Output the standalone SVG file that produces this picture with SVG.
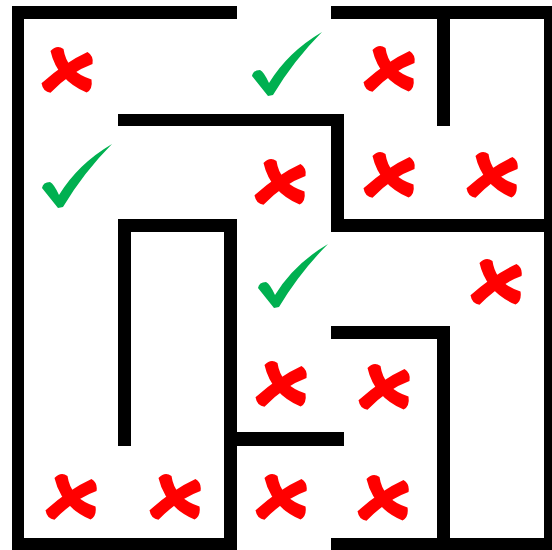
<svg xmlns="http://www.w3.org/2000/svg" xmlns:xlink="http://www.w3.org/1999/xlink" width="552" height="550" viewBox="0 0 552 550">
  <style>
    .wall { fill: #000000; }
    .cross { fill: #FF0000; }
    .check { fill: #00B050; }
  </style>
  <defs>
    <g id="crossMark">
      <path class="cross" d="M -17.5,-19 Q -10.8,10.1 18.6,22.6 Q 25,19 23.5,9.4 Q -1.2,1.9 -4.5,-21 Q -11,-26 -17.5,-19 Z"/>
      <path class="cross" d="M 19.5,-18 Q -3.1,-7.7 -26.5,13.3 Q -25,22 -17.5,22.7 Q 3.1,1.7 24.5,-6 Q 26,-14 19.5,-18 Z"/>
    </g>
    <path id="checkMark" class="check" d="M 0,0 L -16,-20 Q -15,-26 -8,-26 Q -4,-24 1,-13 Q 20,-44 54,-64 Q 26,-36 5,-1 Z"/>
  </defs>
  <rect width="552" height="550" fill="#FFFFFF"/>
  <g id="walls">
    <rect class="wall" x="12" y="6" width="225" height="13"/>
    <rect class="wall" x="331" y="6" width="225" height="13"/>
    <rect class="wall" x="12" y="6" width="12" height="544"/>
    <rect class="wall" x="544" y="6" width="12" height="544"/>
    <rect class="wall" x="12" y="538" width="225" height="12"/>
    <rect class="wall" x="331" y="538" width="225" height="12"/>
    <rect class="wall" x="118" y="114" width="226" height="12"/>
    <rect class="wall" x="331" y="114" width="13" height="118"/>
    <rect class="wall" x="331" y="219" width="225" height="13"/>
    <rect class="wall" x="437" y="6" width="13" height="120"/>
    <rect class="wall" x="118" y="219" width="119" height="13"/>
    <rect class="wall" x="118" y="219" width="13" height="227"/>
    <rect class="wall" x="224" y="219" width="13" height="331"/>
    <rect class="wall" x="224" y="432" width="120" height="14"/>
    <rect class="wall" x="331" y="326" width="119" height="13"/>
    <rect class="wall" x="437" y="326" width="13" height="224"/>
  </g>
  <g id="crosses">
    <use xlink:href="#crossMark" transform="translate(68,70)"/>
    <use xlink:href="#crossMark" transform="translate(390,69)"/>
    <use xlink:href="#crossMark" transform="translate(281,182)"/>
    <use xlink:href="#crossMark" transform="translate(390,175)"/>
    <use xlink:href="#crossMark" transform="translate(493,175)"/>
    <use xlink:href="#crossMark" transform="translate(497,282)"/>
    <use xlink:href="#crossMark" transform="translate(282,384)"/>
    <use xlink:href="#crossMark" transform="translate(385,387)"/>
    <use xlink:href="#crossMark" transform="translate(72,497)"/>
    <use xlink:href="#crossMark" transform="translate(176,497)"/>
    <use xlink:href="#crossMark" transform="translate(282,497)"/>
    <use xlink:href="#crossMark" transform="translate(384,498)"/>
  </g>
  <g id="checks">
    <use xlink:href="#checkMark" transform="translate(268,96)"/>
    <use xlink:href="#checkMark" transform="translate(58,208)"/>
    <use xlink:href="#checkMark" transform="translate(274,308)"/>
  </g>
</svg>
